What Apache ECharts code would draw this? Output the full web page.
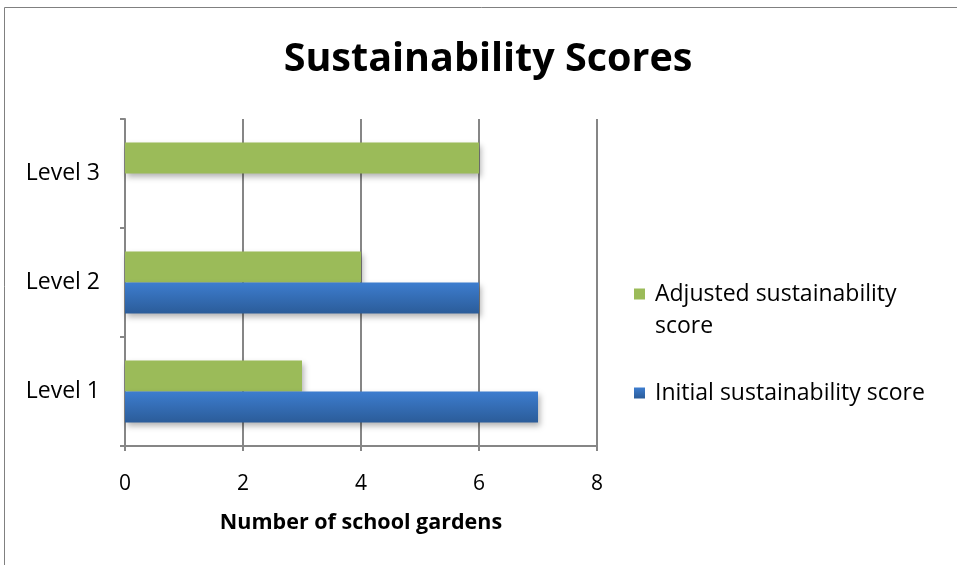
<!DOCTYPE html>
<html><head><meta charset="utf-8">
<script src="https://cdn.jsdelivr.net/npm/echarts@6/dist/echarts.min.js"></script>
<style>html,body{margin:0;padding:0;background:#fff}#c{width:957px;height:565px}</style>
</head><body><div id="c"></div>
<script>
const categories = ['Level 1', 'Level 2', 'Level 3'];
const initialScores = [7, 6, null];
const adjustedScores = [3, 4, 6];
const xTicks = [0, 2, 4, 6, 8];
const seriesNames = ['Initial sustainability score', 'Adjusted sustainability score'];

const chart = echarts.init(document.getElementById('c'), null, {renderer: 'canvas'});
const font = '"Open Sans", "Liberation Sans", sans-serif';
const gray = '#868686';
chart.setOption({
  animation: false,
  title: {
    text: 'Sustainability Scores', left: 483, top: 35, textAlign: 'center',
    textStyle: {fontFamily: font, fontWeight: 'bold', fontSize: 39.5, color: '#000'}
  },
  graphic: [{type: 'rect', shape: {x: 4.5, y: 7.5, width: 1000, height: 600}, style: {fill: 'none', stroke: '#808080', lineWidth: 1}}],
  legend: {
    orient: 'vertical', left: 629, top: 241, itemWidth: 11, itemHeight: 11, itemGap: 35,
    icon: 'rect',
    data: [seriesNames[1], seriesNames[0]],
    formatter: n => n === seriesNames[1] ? '\nAdjusted sustainability\nscore' : n,
    textStyle: {fontFamily: font, fontSize: 23, color: '#000', lineHeight: 32, padding: [0, 0, 0, 5]}
  },
  grid: {left: 125, right: 360, top: 119, bottom: 119, containLabel: false},
  xAxis: {
    type: 'value', min: xTicks[0], max: xTicks[xTicks.length - 1], interval: 2,
    name: 'Number of school gardens', nameLocation: 'middle', nameGap: 66,
    nameTextStyle: {fontFamily: font, fontWeight: 'bold', fontSize: 21.5, color: '#000'},
    axisLine: {show: true, lineStyle: {color: gray, width: 2}},
    axisTick: {show: true, length: 5, lineStyle: {color: gray, width: 2}},
    axisLabel: {fontFamily: font, fontSize: 21, color: '#000', margin: 28},
    splitLine: {show: true, lineStyle: {color: gray, width: 2}}
  },
  yAxis: {
    type: 'category', data: categories,
    axisLine: {show: true, lineStyle: {color: gray, width: 2}},
    axisTick: {show: true, length: 5, lineStyle: {color: gray, width: 2}},
    axisLabel: {fontFamily: font, fontSize: 23, color: '#000', margin: 25}
  },
  series: [
    {
      name: seriesNames[1], type: 'bar', data: adjustedScores, barWidth: 31, barGap: '0%',
      itemStyle: {color: '#9bbb59', shadowColor: 'rgba(0,0,0,0.3)', shadowBlur: 6, shadowOffsetX: 2, shadowOffsetY: 3}
    },
    {
      name: seriesNames[0], type: 'bar', data: initialScores, barWidth: 31, barGap: '0%',
      itemStyle: {
        color: new echarts.graphic.LinearGradient(0, 0, 0, 1, [{offset: 0, color: '#3d7dcf'}, {offset: 1, color: '#2b5c99'}]),
        shadowColor: 'rgba(0,0,0,0.3)', shadowBlur: 6, shadowOffsetX: 2, shadowOffsetY: 3
      }
    }
  ]
});
</script></body></html>
